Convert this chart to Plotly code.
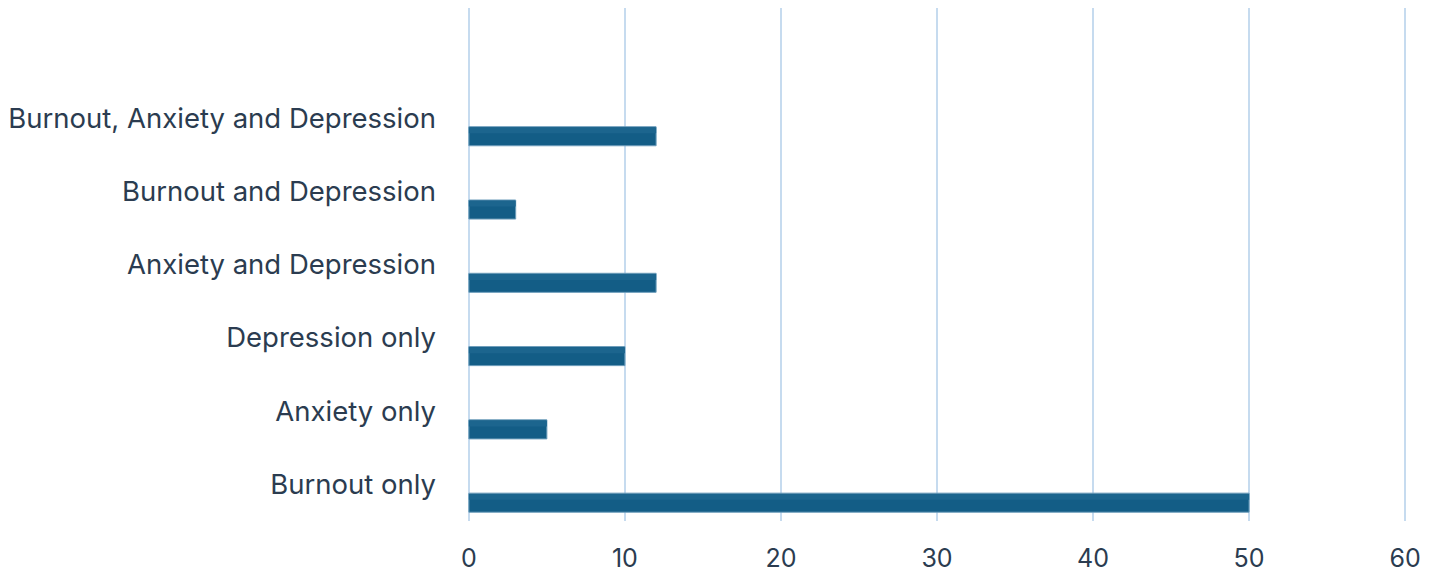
import plotly.graph_objects as go

categories = ["Burnout only", "Anxiety only", "Depression only",
              "Anxiety and Depression", "Burnout and Depression",
              "Burnout, Anxiety and Depression"]
values = [50, 5, 10, 12, 3, 12]
x_ticks = [0, 10, 20, 30, 40, 50, 60]

text_color = "#2b3c50"
grid_color = "#c6dbef"

fig = go.Figure()
fig.add_trace(go.Bar(
    x=values, y=categories, orientation="h",
    offset=-0.38, width=0.26,
    marker=dict(color="#135d86", line=dict(color="#6d9dbb", width=1)),
))
# lighter upper part to hint at the gradient fill
fig.add_trace(go.Bar(
    x=values, y=categories, orientation="h",
    offset=-0.21, width=0.08,
    marker=dict(color="#1c658e", line=dict(width=0)),
))

# page body adds 8px, so the figure is a bit smaller than the window
fig.update_layout(
    width=1422, height=570,
    margin=dict(l=457, r=23, t=0, b=57),
    paper_bgcolor="white", plot_bgcolor="white",
    font=dict(family="Inter", color=text_color),
    showlegend=False, barmode="overlay",
)
fig.update_xaxes(
    range=[-0.12, 60.12], tickvals=x_ticks,
    showgrid=True, gridcolor=grid_color, gridwidth=2,
    zeroline=False, showline=False, ticks="",
    ticklabelstandoff=20,
    tickfont=dict(size=25, color=text_color),
)
fig.update_yaxes(
    type="category", categoryorder="array", categoryarray=categories,
    range=[-0.5, 6.5], showgrid=False, zeroline=False, ticks="",
    ticklabelstandoff=30,
    tickfont=dict(size=27.5, color=text_color),
)

fig.write_html("out.html")
